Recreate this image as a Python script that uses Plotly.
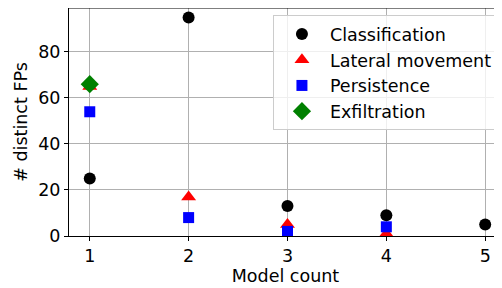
import plotly.graph_objects as go

model_count = [1, 2, 3, 4, 5]
classification = [25, 95, 13, 9, 5]
lateral_x = [1, 2, 3, 4]
lateral = [65, 17, 5, 1]
persistence_x = [1, 2, 3, 4]
persistence = [54, 8, 2, 4]
exfil_x = [1]
exfiltration = [66]
y_ticks = [0, 20, 40, 60, 80]

font = dict(family="DejaVu Sans", size=17.5, color="black")

fig = go.Figure()
fig.add_trace(go.Scatter(x=model_count, y=classification, mode="markers", name="Classification",
                         marker=dict(symbol="circle", size=12, color="black")))
fig.add_trace(go.Scatter(x=lateral_x, y=lateral, mode="markers", name="Lateral movement",
                         marker=dict(symbol="triangle-up", size=13, color="red")))
fig.add_trace(go.Scatter(x=persistence_x, y=persistence, mode="markers", name="Persistence",
                         marker=dict(symbol="square", size=11, color="blue")))
fig.add_trace(go.Scatter(x=exfil_x, y=exfiltration, mode="markers", name="Exfiltration",
                         marker=dict(symbol="diamond", size=14, color="green")))

axis_common = dict(showgrid=True, gridcolor="#b0b0b0", gridwidth=1, showline=True, linecolor="black",
                   linewidth=1, ticks="outside", ticklen=4, tickcolor="black", zeroline=False,
                   tickfont=font, title_font=font, automargin=False)

fig.update_layout(
    width=494, height=280,
    margin=dict(l=61, r=0, t=0, b=52),
    plot_bgcolor="white", paper_bgcolor="white",
    font=font,
    xaxis=dict(range=[0.79, 5.17], tickvals=model_count, title=dict(text="Model count", standoff=4), **axis_common),
    yaxis=dict(range=[0, 99.1], tickvals=y_ticks, title=dict(text="# distinct FPs", standoff=6), **axis_common),
    legend=dict(x=0.471, y=0.969, xanchor="left", yanchor="top", bgcolor="rgba(255,255,255,0.8)",
                bordercolor="#cccccc", borderwidth=1, font=font, itemwidth=46),
    showlegend=True,
)
fig.add_shape(type="line", xref="paper", yref="paper", x0=0, x1=1, y0=1, y1=1,
              line=dict(color="black", width=1))
fig.write_html("out.html")
